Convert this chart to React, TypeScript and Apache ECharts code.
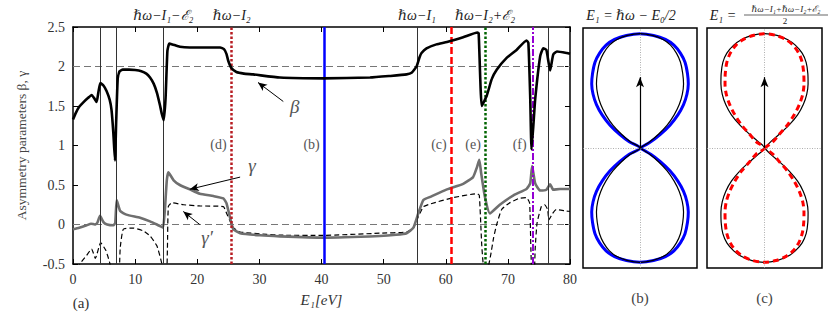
import React, { useEffect, useRef } from "react";
import * as echarts from "echarts";

const SERIF = "'Liberation Serif', 'DejaVu Serif', serif";

// beta(E1)
const betaData: [number, number][] = [
  [0, 1.33], [0.5, 1.42], [1.0, 1.49], [1.7, 1.55], [2.4, 1.6], [3.0, 1.64], [3.4, 1.6], [3.8, 1.55],
  [4.1, 1.68], [4.4, 1.79], [4.9, 1.76], [5.4, 1.69], [5.9, 1.58], [6.2, 1.45], [6.5, 1.15], [6.76, 0.81],
  [6.95, 1.3], [7.2, 1.85], [7.5, 1.94], [8.0, 1.96], [9.0, 1.96], [10.0, 1.955], [11.0, 1.94], [11.8, 1.91],
  [12.4, 1.86], [13.0, 1.78], [13.5, 1.67], [14.0, 1.51], [14.3, 1.4], [14.6, 1.32], [14.9, 1.6], [15.2, 2.2],
  [15.5, 2.29], [16.0, 2.28], [17.2, 2.25], [18.8, 2.24], [21.5, 2.24], [23.7, 2.24], [24.3, 2.22], [24.7, 2.16],
  [25.0, 2.07], [25.5, 1.98], [26.3, 1.93], [27.5, 1.91], [29, 1.9], [33.3, 1.86], [40.3, 1.85], [47.8, 1.86],
  [51, 1.88], [53.7, 1.9], [54.5, 1.92], [55.3, 2.0], [55.8, 2.12], [56.1, 2.17], [56.9, 2.23], [58.5, 2.28],
  [60.2, 2.31], [62.8, 2.37], [65.1, 2.43], [65.3, 2.42], [65.8, 1.5], [66.6, 1.63], [67.4, 1.84], [68.2, 1.96],
  [69.8, 2.11], [71.4, 2.21], [73.0, 2.33], [73.3, 2.3], [73.6, 1.6], [73.8, 0.95], [74.1, 1.25], [74.4, 1.59],
  [75.2, 2.13], [75.7, 2.23], [76.2, 2.21], [76.8, 1.95], [77.3, 2.15], [77.9, 2.19], [79.5, 2.17], [80, 2.16],
];

// gamma(E1)
const gammaData: [number, number][] = [
  [0, -0.06], [1.0, -0.04], [2.2, -0.01], [2.9, 0.01], [3.5, 0.0], [3.9, 0.02], [4.35, 0.11], [4.9, 0.03],
  [5.5, 0.0], [6.5, -0.01], [6.8, 0.02], [7.03, 0.31], [7.6, 0.17], [8.6, 0.125], [10.8, 0.085], [12.4, 0.04],
  [13.5, 0.0], [14.0, -0.02], [14.5, -0.04], [14.8, 0.2], [15.1, 0.56], [15.35, 0.66], [16.2, 0.56], [17.2, 0.5],
  [18.8, 0.445], [20.4, 0.39], [22.6, 0.36], [24.2, 0.33], [24.7, 0.27], [25.3, 0.08], [25.8, -0.06], [26.9, -0.11],
  [30.1, -0.137], [33.3, -0.15], [40.3, -0.166], [49.4, -0.145], [52, -0.13], [53.7, -0.11], [54.8, -0.04],
  [55.6, 0.145], [56.4, 0.31], [57.5, 0.35], [60.2, 0.445], [62.8, 0.515], [64.4, 0.6], [65.0, 0.72], [65.4, 0.82],
  [65.7, 0.65], [66.3, 0.35], [67.1, 0.14], [68.7, 0.25], [70.9, 0.37], [73.0, 0.45], [73.6, 0.52], [73.9, 0.74],
  [74.4, 0.52], [75.2, 0.43], [76.2, 0.44], [76.8, 0.51], [77.3, 0.44], [78.4, 0.45], [80, 0.45],
];

// gamma'(E1)
const gammaPrimeData: [number, number][] = [
  [0, -0.75], [1.1, -0.5], [2.2, -0.39], [3.0, -0.31], [3.6, -0.43], [4.45, -0.23], [5.3, -0.33], [5.96, -0.5],
  [6.6, -0.8], [7.3, -0.8], [7.6, -0.3], [8.1, -0.06], [9.7, -0.045], [11.3, -0.08], [12.4, -0.145], [13.5, -0.27],
  [14.3, -0.5], [14.6, -0.8], [15.0, -0.8], [15.2, -0.3], [15.35, 0.23], [15.9, 0.275], [17.8, 0.25], [20.4, 0.235],
  [24.2, 0.227], [24.7, 0.145], [25.3, 0.04], [25.8, -0.04], [26.9, -0.095], [31.2, -0.124], [33.3, -0.135],
  [40.3, -0.137], [49.4, -0.11], [53.7, -0.095], [54.8, -0.04], [55.6, 0.1], [56.4, 0.225], [57.5, 0.26],
  [61.2, 0.34], [65.0, 0.39], [65.4, 0.37], [65.8, -0.27], [66.2, -0.6], [66.6, -0.6], [67.2, -0.4], [67.7, -0.17],
  [68.2, 0.0], [69.0, 0.19], [70.2, 0.27], [71.8, 0.33], [73.0, 0.34], [73.5, 0.27], [73.7, -0.3], [73.9, -0.7],
  [74.2, -0.7], [74.4, -0.3], [74.7, 0.02], [75.4, 0.23], [75.9, 0.25], [76.4, 0.19], [76.6, 0.06], [77.2, 0.14],
  [77.8, 0.19], [79.4, 0.17], [80, 0.165],
];

// threshold energies (thin black lines)
const thinLines = [4.35, 6.92, 14.54, 55.37, 76.57];
const thinLineLabels: Record<number, string> = { 14.54: "ℏω−I₁−ℰ₂", 55.37: "ℏω−I₁" };
// marked energies (coloured lines)
const markedE = { d: 25.55, b: 40.4, c: 60.85, e: 66.32, f: 73.93 };
const panelLabels = [
  { name: "(d)", coord: [23.4, 1.01] },
  { name: "(b)", coord: [38.4, 1.01] },
  { name: "(c)", coord: [58.9, 1.01] },
  { name: "(e)", coord: [64.4, 1.01] },
  { name: "(f)", coord: [71.9, 1.01] },
];

// quarter lobes (top -> centre), [half-width, height] in units of lobe height
const lobeBBlue: [number, number][] = [
  [0, 1], [0.12, 0.985], [0.225, 0.95], [0.3, 0.9], [0.357, 0.83], [0.398, 0.75], [0.42, 0.65], [0.427, 0.56],
  [0.415, 0.47], [0.385, 0.38], [0.335, 0.29], [0.265, 0.2], [0.18, 0.12], [0.095, 0.055], [0, 0],
];
const lobeBBlack: [number, number][] = [
  [0, 1], [0.108, 0.985], [0.203, 0.95], [0.27, 0.9], [0.322, 0.83], [0.358, 0.75], [0.378, 0.65], [0.385, 0.56],
  [0.374, 0.47], [0.347, 0.38], [0.302, 0.29], [0.24, 0.2], [0.163, 0.12], [0.086, 0.055], [0, 0],
];
const lobeCBlack: [number, number][] = [
  [0, 1], [0.11, 0.985], [0.2, 0.95], [0.27, 0.9], [0.33, 0.83], [0.365, 0.75], [0.38, 0.65], [0.382, 0.56],
  [0.37, 0.47], [0.34, 0.38], [0.29, 0.29], [0.215, 0.2], [0.13, 0.12], [0.06, 0.06], [0, 0],
];
const lobeCRed: [number, number][] = [
  [0, 1], [0.1, 0.985], [0.185, 0.95], [0.25, 0.9], [0.3, 0.83], [0.33, 0.75], [0.344, 0.65], [0.346, 0.56],
  [0.335, 0.47], [0.305, 0.38], [0.26, 0.29], [0.2, 0.2], [0.13, 0.12], [0.075, 0.055], [0, 0],
];

function figure8(q: [number, number][]): [number, number][] {
  const rev = [...q].reverse();
  const pts: [number, number][] = [];
  rev.forEach(([x, y]) => pts.push([x, y]));
  q.slice(1).forEach(([x, y]) => pts.push([-x, y]));
  rev.slice(1).forEach(([x, y]) => pts.push([-x, -y]));
  q.slice(1).forEach(([x, y]) => pts.push([x, -y]));
  return pts;
}

const tickText = { color: "#333", fontFamily: SERIF, fontSize: 14 };

export default function App() {
  const ref = useRef<HTMLDivElement>(null);
  useEffect(() => {
    if (!ref.current) return;
    const chart = echarts.init(ref.current, undefined, { renderer: "svg" });

    const mainAxisCommon = {
      type: "value" as const,
      gridIndex: 0,
      axisLine: { onZero: false, lineStyle: { color: "#000", width: 1.5 } },
      axisTick: { inside: true, length: 5, lineStyle: { color: "#000", width: 1 } },
      splitLine: { show: false },
    };
    const polarX = (gi: number, name: string) => ({
      type: "value" as const,
      gridIndex: gi,
      min: -0.504,
      max: 0.504,
      axisLine: { show: false },
      axisTick: { show: false },
      axisLabel: { show: false },
      splitLine: { show: false },
      name,
      nameLocation: "middle" as const,
      nameGap: 22,
      nameTextStyle: { color: "#444", fontFamily: SERIF, fontSize: 15 },
    });
    const polarY = (gi: number) => ({
      type: "value" as const,
      gridIndex: gi,
      min: -1.05,
      max: 1.05,
      axisLine: { show: false },
      axisTick: { show: false },
      axisLabel: { show: false },
      splitLine: { show: false },
    });

    const centreLines = {
      silent: true,
      symbol: "none",
      label: { show: false },
      lineStyle: { color: "#999", width: 0.8, type: [1, 1.5] },
      data: [{ xAxis: 0 }, { yAxis: 0 }],
    };
    const arrowLine = {
      silent: true,
      symbol: ["none", "arrow"],
      symbolSize: [6, 10],
      label: { show: false },
      lineStyle: { color: "#000", width: 1.2, type: "solid" },
      data: [[{ coord: [0, 0] }, { coord: [0, 0.62] }]],
    };

    const vLine = (e: number, color: string, width: number, type: any, label?: string) => ({
      xAxis: e,
      lineStyle: { color, width, type },
      label: label
        ? { show: true, position: "end", formatter: label, color: "#222", fontFamily: SERIF, fontSize: 14, fontStyle: "italic", distance: 5 }
        : { show: false },
    });

    chart.setOption({
      animation: false,
      grid: [
        { left: 73, top: 27, width: 497, height: 241 },
        { left: 583, top: 28, width: 114, height: 240, show: true, borderColor: "#000", borderWidth: 1.5 },
        { left: 707, top: 28, width: 115, height: 240, show: true, borderColor: "#000", borderWidth: 1.5 },
      ],
      xAxis: [
        {
          ...mainAxisCommon,
          min: 0, max: 80, interval: 10, position: "bottom",
          axisLabel: { ...tickText, margin: 8 },
          name: "E₁[eV]", nameLocation: "middle", nameGap: 28,
          nameTextStyle: { color: "#333", fontFamily: SERIF, fontSize: 15, fontStyle: "italic" },
        },
        { ...mainAxisCommon, min: 0, max: 80, interval: 10, position: "top", axisLabel: { show: false } },
        polarX(1, "(b)"),
        polarX(2, "(c)"),
      ],
      yAxis: [
        {
          ...mainAxisCommon,
          min: -0.5, max: 2.5, interval: 0.5, position: "left",
          axisLabel: { ...tickText, margin: 8 },
          name: "Asymmetry parameters β, γ", nameLocation: "middle", nameGap: 45,
          nameTextStyle: { color: "#444", fontFamily: SERIF, fontSize: 13.5 },
        },
        { ...mainAxisCommon, min: -0.5, max: 2.5, interval: 0.5, position: "right", axisLabel: { show: false } },
        polarY(1),
        polarY(2),
      ],
      graphic: [
        { type: "text", x: 81, y: 303, style: { text: "(a)", fill: "#333", fontFamily: SERIF, fontSize: 15, align: "center", verticalAlign: "middle", textAlign: "center", textVerticalAlign: "middle" } },
        { type: "text", x: 631, y: 15, style: { text: "E₁ = ℏω − E₀/2", fill: "#222", fontFamily: SERIF, fontSize: 14, fontStyle: "italic", align: "center", verticalAlign: "middle", textAlign: "center", textVerticalAlign: "middle" } },
        { type: "text", x: 723, y: 15, style: { text: "E₁ =", fill: "#222", fontFamily: SERIF, fontSize: 14, fontStyle: "italic", align: "center", verticalAlign: "middle", textAlign: "center", textVerticalAlign: "middle" } },
        { type: "text", x: 786, y: 9, style: { text: "ℏω−I₁+ℏω−I₂+ℰ₂", fill: "#222", fontFamily: SERIF, fontSize: 9, fontStyle: "italic", align: "center", verticalAlign: "middle", textAlign: "center", textVerticalAlign: "middle" } },
        { type: "line", shape: { x1: 744, y1: 15, x2: 828, y2: 15 }, style: { stroke: "#222", lineWidth: 0.7 } },
        { type: "text", x: 785, y: 21, style: { text: "2", fill: "#222", fontFamily: SERIF, fontSize: 9, align: "center", verticalAlign: "middle", textAlign: "center", textVerticalAlign: "middle" } },
      ],
      series: [
        {
          type: "line", xAxisIndex: 0, yAxisIndex: 0, data: gammaPrimeData, showSymbol: false, smooth: 0.15,
          lineStyle: { color: "#000", width: 1.2, type: [5, 3] }, z: 3,
          markLine: {
            silent: true, symbol: "none", z: 1, label: { show: false },
            lineStyle: { color: "#777", width: 1, type: [7, 4] },
            data: [{ yAxis: 2 }, { yAxis: 0 }],
          },
        },
        {
          type: "line", xAxisIndex: 0, yAxisIndex: 0, data: gammaData, showSymbol: false, smooth: 0.15,
          lineStyle: { color: "#6f6f6f", width: 2.6 }, z: 4,
        },
        {
          type: "line", xAxisIndex: 0, yAxisIndex: 0, data: betaData, showSymbol: false, smooth: 0.15,
          lineStyle: { color: "#000", width: 2.6 }, z: 5,
          markLine: {
            silent: true, symbol: "none",
            data: [
              ...thinLines.map((e) => vLine(e, "#333", 1, "solid", thinLineLabels[e])),
              vLine(markedE.d, "#b81c22", 2.5, [2.5, 2], "ℏω−I₂"),
              vLine(markedE.b, "#0000ff", 2.5, "solid"),
              vLine(markedE.c, "#ff0000", 2.5, [7, 3]),
              vLine(markedE.e, "#006400", 2.5, [2.5, 2], "ℏω−I₂+ℰ₂"),
              vLine(markedE.f, "#9400d3", 2, [7, 2, 2, 2]),
            ],
          },
          markPoint: {
            silent: true, symbol: "circle", symbolSize: 0,
            label: { show: true, position: "inside", formatter: "{b}", color: "#555", fontFamily: SERIF, fontSize: 14 },
            data: [
              ...panelLabels,
              { name: "β", coord: [35.7, 1.49], label: { fontSize: 19, fontStyle: "italic", color: "#555" } },
              { name: "γ", coord: [28.8, 0.744], label: { fontSize: 19, fontStyle: "italic", color: "#555" } },
              { name: "γ′", coord: [21.6, -0.16], label: { fontSize: 19, fontStyle: "italic", color: "#555" } },
            ],
          },
        },
        {
          type: "line", xAxisIndex: 0, yAxisIndex: 0, data: [], showSymbol: false,
          markLine: {
            silent: true, symbol: ["none", "arrow"], symbolSize: [6, 9], label: { show: false },
            lineStyle: { color: "#000", width: 1, type: "solid" },
            data: [
              [{ coord: [33.85, 1.557] }, { coord: [29.78, 1.798] }],
              [{ coord: [26.9, 0.6] }, { coord: [18.8, 0.446] }],
              [{ coord: [20.4, 0.0] }, { coord: [17.75, 0.165] }],
            ],
          },
        },
        {
          type: "line", xAxisIndex: 2, yAxisIndex: 2, data: figure8(lobeBBlue), showSymbol: false, smooth: 0.3,
          lineStyle: { color: "#0000ff", width: 3 }, markLine: centreLines,
        },
        {
          type: "line", xAxisIndex: 2, yAxisIndex: 2, data: figure8(lobeBBlack), showSymbol: false, smooth: 0.3,
          lineStyle: { color: "#000", width: 1.2 }, markLine: arrowLine,
        },
        {
          type: "line", xAxisIndex: 3, yAxisIndex: 3, data: figure8(lobeCBlack), showSymbol: false, smooth: 0.3,
          lineStyle: { color: "#000", width: 1.2 }, markLine: centreLines,
        },
        {
          type: "line", xAxisIndex: 3, yAxisIndex: 3, data: figure8(lobeCRed), showSymbol: false, smooth: 0.3,
          lineStyle: { color: "#ff0000", width: 3, type: [6, 4] }, markLine: arrowLine,
        },
      ],
    });
    return () => chart.dispose();
  }, []);
  return <div ref={ref} style={{ position: "absolute", left: 0, top: 0, width: 831, height: 312 }} />;
}
